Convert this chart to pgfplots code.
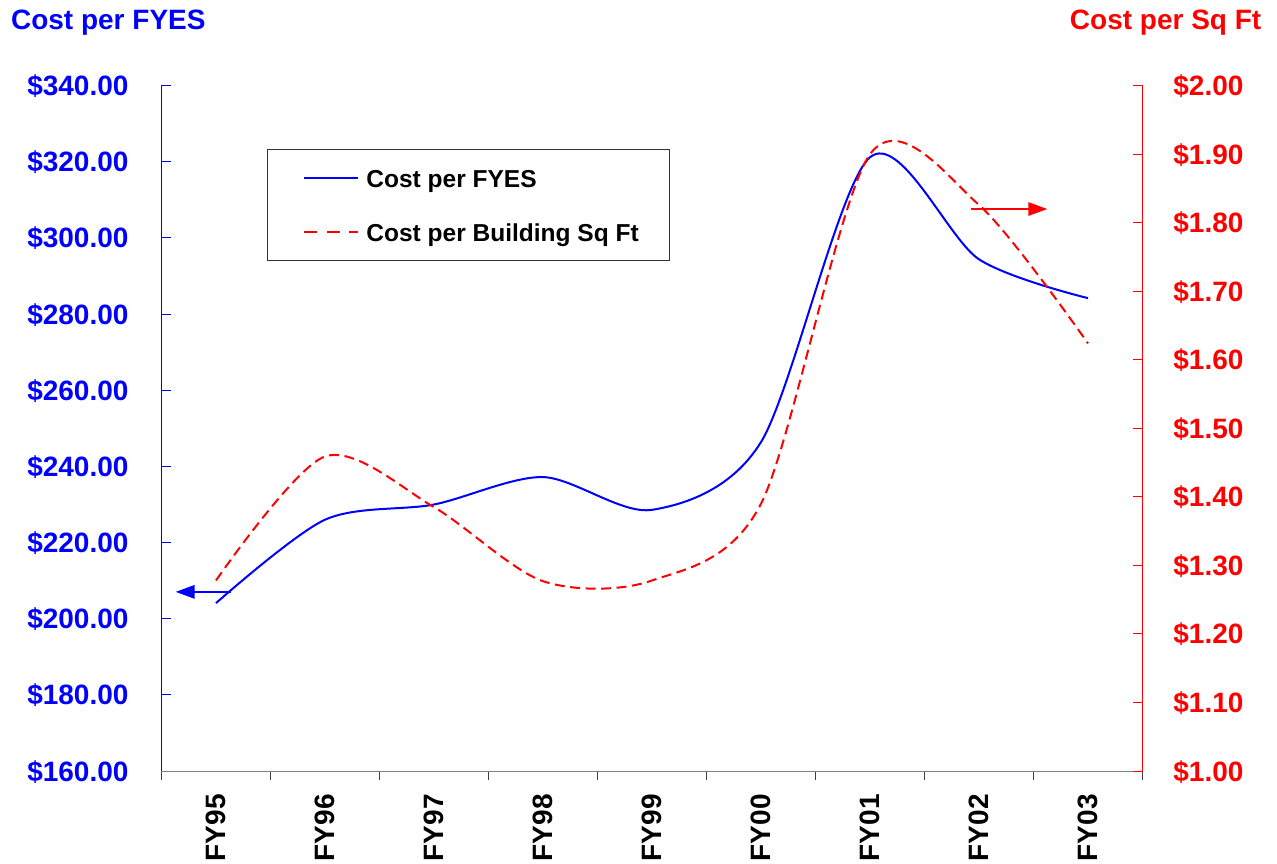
\documentclass[border=0pt]{standalone}
\usepackage{fontspec}
\setmainfont{Liberation Sans}
\usepackage{pgfplots}
\usepackage{pgfplotstable}
\pgfplotsset{compat=1.18}
\usetikzlibrary{arrows.meta}

\pgfplotstableread{
x fyes sqft
0 204.1 1.278
1 226.0 1.459
2 230.0 1.385
3 237.2 1.277
4 228.6 1.278
5 246.4 1.390
6 321.2 1.900
7 294.4 1.826
8 284.2 1.624
}\costdata

\definecolor{cblue}{RGB}{0,0,255}
\definecolor{cred}{RGB}{255,0,0}

\newcommand{\tfont}{\fontsize{14}{16}\selectfont\bfseries}
\newcommand{\lfont}{\fontsize{12.25}{14}\selectfont\bfseries}

\pgfplotsset{
  legline/.style={legend image code/.code={\path (0pt,0pt); \draw[##1] (2.5pt,0pt) -- (29.5pt,0pt);}},
  legdash/.style={legend image code/.code={\path (0pt,0pt); \draw[##1, dash pattern=on 6.35pt off 4.85pt] (2.5pt,0pt) -- (29.5pt,0pt);}},
  common/.style={
    at={(0pt,0pt)}, anchor=south west,
    scale only axis, width=490.5pt, height=342.65pt,
    xmin=-0.5, xmax=8.5, clip=false,
    tick align=inside, major tick length=4.6pt,
  }
}

\begin{document}
\begin{tikzpicture}
\path[use as bounding box] (-80.75pt,-46pt) rectangle (557.75pt,385.5pt);
\begin{axis}[common,
  axis y line*=left, axis x line*=bottom,
  ymin=160, ymax=340,
  ytick={160,180,...,340},
  yticklabels={\$160.00,\$180.00,\$200.00,\$220.00,\$240.00,\$260.00,\$280.00,\$300.00,\$320.00,\$340.00},
  yticklabel style={font=\tfont, text=cblue, anchor=base east, inner sep=0pt, xshift=-16.3pt, yshift=-5pt},
  y axis line style={draw=cblue, line width=0.5pt},
  ytick style={draw=cblue, line width=0.5pt},
  x axis line style={draw=black!50, line width=0.5pt},
  xtick={-0.5,0.5,...,8.5},
  xticklabels={},
  xtick style={draw=black!75, line width=0.5pt, yshift=-4.6pt},
  extra x ticks={0,1,...,8},
  extra x tick labels={FY95,FY96,FY97,FY98,FY99,FY00,FY01,FY02,FY03},
  extra x tick style={major tick length=0pt},
  xticklabel style={font=\tfont, text=black, yshift=-11.5pt, rotate=90, anchor=east, inner sep=0pt},
]
\addplot[cblue, line width=1pt, no markers, smooth] table[x=x,y=fyes]{\costdata};
\draw[cblue, line width=1pt, -{Triangle[length=9.5pt,width=6.7pt]}] (axis cs:0.138,207.05) -- (axis cs:-0.370,207.05);
\end{axis}

\begin{axis}[common,
  axis y line*=right, axis x line=none,
  ymin=1, ymax=2,
  ytick={1,1.1,1.2,1.3,1.4,1.5,1.6,1.7,1.8,1.9,2},
  yticklabels={\$1.00,\$1.10,\$1.20,\$1.30,\$1.40,\$1.50,\$1.60,\$1.70,\$1.80,\$1.90,\$2.00},
  yticklabel style={font=\tfont, text=cred, anchor=base west, inner sep=0pt, xshift=15.25pt, yshift=-5pt},
  y axis line style={draw=cred, line width=0.5pt},
  ytick style={draw=cred, line width=0.5pt},
  xtick=\empty,
  legend style={at={(0.1075,0.9071)}, anchor=north west, draw=black!80, line width=0.5pt, fill=white, font=\lfont, inner xsep=15.5pt, inner ysep=9.8pt, row sep=18.2pt, column sep=3.5pt, nodes={inner sep=0pt, text height=8.8pt, text depth=0pt}},
  legend cell align=left,
]
\addlegendimage{cblue, line width=1pt, legline}
\addlegendentry{Cost per FYES}
\addplot[cred, line width=1pt, no markers, smooth, dash pattern=on 5pt off 2.75pt, legdash] table[x=x,y=sqft]{\costdata};
\addlegendentry{Cost per Building Sq Ft}
\draw[cred, line width=0.8pt, -{Triangle[length=9.5pt,width=6.7pt]}] (axis cs:6.924,1.82) -- (axis cs:7.627,1.82);
\end{axis}

\node[anchor=base west, inner sep=0pt, font=\tfont, text=cblue] at (-75.4pt,370.5pt) {Cost per FYES};
\node[anchor=base east, inner sep=0pt, font=\tfont, text=cred] at (550.1pt,370.5pt) {Cost per Sq Ft};
\end{tikzpicture}
\end{document}
